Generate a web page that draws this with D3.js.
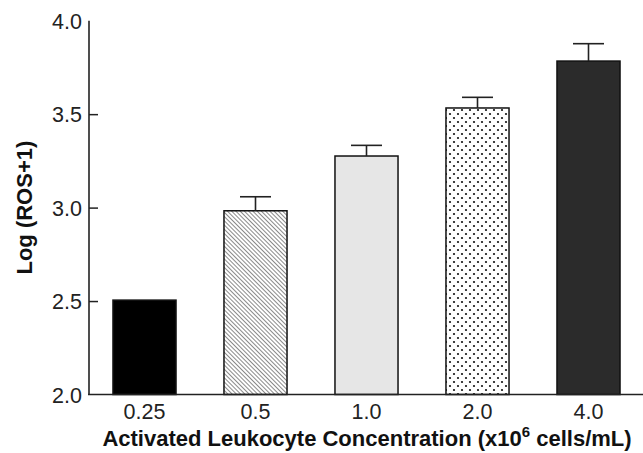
<!DOCTYPE html>
<html>
<head>
<meta charset="utf-8">
<script src="https://cdn.jsdelivr.net/npm/d3@7"></script>
<style>
  body { margin: 0; background: #fff; }
  svg { display: block; font-family: "Liberation Sans", Arial, Helvetica, sans-serif; }
</style>
</head>
<body>
<svg id="chart" width="643" height="453"></svg>
<script>
// data
const concentrations = ["0.25", "0.5", "1.0", "2.0", "4.0"];
const logRos = [2.505, 2.983, 3.276, 3.533, 3.784];
const errorBars = [0, 0.075, 0.057, 0.057, 0.093];
const fills = ["#000000", "url(#hatch)", "#e6e6e6", "url(#dots)", "#2b2b2b"];
const yTicks = [2.0, 2.5, 3.0, 3.5, 4.0];

const svg = d3.select("#chart");

// patterns for bars 2 and 4
const defs = svg.append("defs");
const hatch = defs.append("pattern")
    .attr("id", "hatch")
    .attr("patternUnits", "userSpaceOnUse")
    .attr("width", 3)
    .attr("height", 3)
    .attr("patternTransform", "rotate(45)");
hatch.append("rect").attr("width", 3).attr("height", 3).attr("fill", "#fff");
hatch.append("line")
    .attr("x1", 0).attr("x2", 3).attr("y1", 0.5).attr("y2", 0.5)
    .attr("stroke", "#8a8a8a").attr("stroke-width", 1);

const dots = defs.append("pattern")
    .attr("id", "dots")
    .attr("patternUnits", "userSpaceOnUse")
    .attr("width", 8)
    .attr("height", 8);
dots.append("rect").attr("width", 8).attr("height", 8).attr("fill", "#fff");
dots.append("circle").attr("cx", 2).attr("cy", 2).attr("r", 1.1).attr("fill", "#111");
dots.append("circle").attr("cx", 6).attr("cy", 6).attr("r", 1.1).attr("fill", "#111");

// scales
const x = d3.scaleBand()
    .domain(concentrations)
    .range([89, 644])
    .paddingInner(0.432)
    .paddingOuter(0.216);

const y = d3.scaleLinear()
    .domain([2.0, 4.0])
    .range([394.5, 20.7]);

// bars
svg.append("g")
  .selectAll("rect")
  .data(logRos)
  .enter()
  .append("rect")
    .attr("x", (d, i) => x(concentrations[i]))
    .attr("y", d => y(d))
    .attr("width", x.bandwidth())
    .attr("height", d => y(2.0) - y(d))
    .attr("fill", (d, i) => fills[i])
    .attr("stroke", "#111")
    .attr("stroke-width", 1.5);

// error bars (upper only)
const err = svg.append("g")
    .attr("stroke", "#222")
    .attr("stroke-width", 1.6)
    .attr("fill", "none");
logRos.forEach(function(v, i) {
  if (!errorBars[i]) return;
  const cx = x(concentrations[i]) + x.bandwidth() / 2;
  err.append("line")
      .attr("x1", cx).attr("x2", cx)
      .attr("y1", y(v)).attr("y2", y(v + errorBars[i]));
  err.append("line")
      .attr("x1", cx - 15.5).attr("x2", cx + 15.5)
      .attr("y1", y(v + errorBars[i])).attr("y2", y(v + errorBars[i]));
});

// y axis: ticks point inward, no tick at the ends
const yAxis = svg.append("g")
    .attr("transform", "translate(89,0)")
    .call(d3.axisRight(y).tickValues(yTicks).tickSize(9).tickFormat(d3.format(".1f")));
yAxis.select(".domain").remove();
yAxis.selectAll(".tick line")
    .attr("stroke", "#222")
    .attr("stroke-width", 1.5)
    .attr("display", d => (d === 2.0 || d === 4.0) ? "none" : null);
yAxis.selectAll(".tick text")
    .attr("x", -7)
    .attr("dy", "0.36em")
    .attr("text-anchor", "end")
    .attr("font-size", 21.5)
    .attr("fill", "#222");

svg.append("line")
    .attr("x1", 89).attr("x2", 89)
    .attr("y1", y(4.0)).attr("y2", y(2.0))
    .attr("stroke", "#222").attr("stroke-width", 1.6);

// x axis
const xAxis = svg.append("g")
    .attr("transform", "translate(0," + y(2.0) + ")")
    .call(d3.axisBottom(x).tickSize(0).tickPadding(9));
xAxis.select(".domain").remove();
xAxis.selectAll(".tick text")
    .attr("font-size", 21.5)
    .attr("fill", "#222");

svg.append("line")
    .attr("x1", 88).attr("x2", 643)
    .attr("y1", y(2.0)).attr("y2", y(2.0))
    .attr("stroke", "#222").attr("stroke-width", 1.6);

// axis titles
const xTitle = svg.append("text")
    .attr("x", 367)
    .attr("y", 446)
    .attr("text-anchor", "middle")
    .attr("font-size", 22)
    .attr("font-weight", 700)
    .attr("fill", "#111");
xTitle.append("tspan").text("Activated Leukocyte Concentration (x10");
xTitle.append("tspan").attr("dy", -9).attr("font-size", 15).text("6");
xTitle.append("tspan").attr("dy", 9).text(" cells/mL)");

svg.append("text")
    .attr("transform", "translate(32,207.6) rotate(-90)")
    .attr("text-anchor", "middle")
    .attr("font-size", 22)
    .attr("font-weight", 700)
    .attr("fill", "#111")
    .text("Log (ROS+1)");
</script>
</body>
</html>
